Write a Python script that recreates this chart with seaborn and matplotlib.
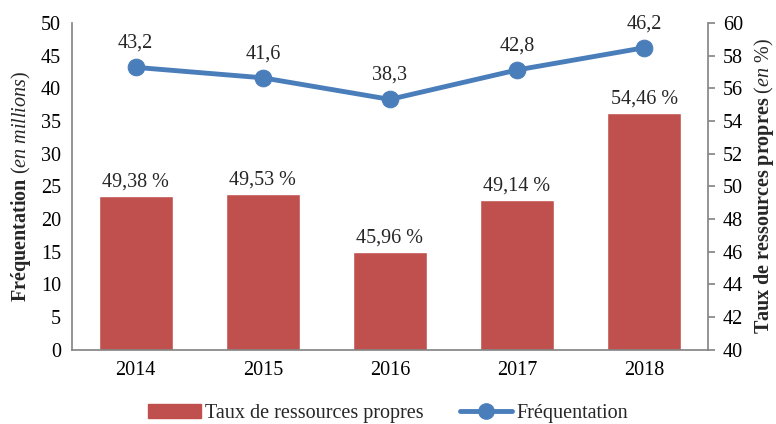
import matplotlib
matplotlib.use('Agg')
import matplotlib.pyplot as plt
import seaborn as sns
import pandas as pd
import numpy as np

# data
years = ['2014', '2015', '2016', '2017', '2018']
frequentation = [43.2, 41.6, 38.3, 42.8, 46.2]          # left axis, millions
taux_propres = [49.38, 49.53, 45.96, 49.14, 54.46]      # right axis, %

bar_color = '#C0504D'
line_color = '#4A7EBB'
grey = '#868686'

sns.set_theme(style='white')
plt.rcParams['font.family'] = ['Liberation Serif', 'DejaVu Serif']
plt.rcParams['mathtext.fontset'] = 'custom'
plt.rcParams['mathtext.rm'] = 'Liberation Serif'
plt.rcParams['mathtext.bf'] = 'Liberation Serif:bold'
plt.rcParams['mathtext.it'] = 'Liberation Serif:italic'

fs = 14.5
fig = plt.figure(figsize=(7.76, 4.24), dpi=100)
ax1 = fig.add_axes([0.093, 0.175, 0.819, 0.771])
ax2 = ax1.twinx()

df = pd.DataFrame({'year': years, 'freq': frequentation, 'taux': taux_propres})

# bars on the right axis
sns.barplot(data=df, x='year', y='taux', ax=ax2, color=bar_color,
            width=0.58, saturation=1, bottom=0)
ax2.set_ylim(40, 60)
ax2.set_yticks(np.arange(40, 61, 2))
for p, v in zip(ax2.patches, taux_propres):
    ax2.text(p.get_x() + p.get_width() / 2, v + 0.3, f"{v:.2f} %".replace('.', ','),
             ha='center', va='bottom', fontsize=fs)

# line on the left axis, drawn above bars
df['pos'] = np.arange(len(years))
sns.lineplot(data=df, x='pos', y='freq', ax=ax1, color=line_color, linewidth=3.5,
             marker='o', markersize=12, markeredgecolor=line_color)
for x, v in zip(df['pos'], frequentation):
    ax1.text(x, v + 2.2, f"{v:.1f}".replace('.', ','), ha='center', va='bottom', fontsize=fs)
ax1.set_zorder(ax2.get_zorder() + 1)
ax1.patch.set_visible(False)

ax1.set_ylim(0, 50)
ax1.set_yticks(np.arange(0, 51, 5))
ax1.set_xlim(-0.5, 4.5)
ax2.set_xlim(-0.5, 4.5)
ax1.set_xticks(range(len(years)))
ax1.set_xticklabels(years)
ax1.set_xlabel('')
ax2.set_xlabel('')

ax1.set_ylabel(r'$\mathbf{Fréquentation}$ $\mathit{(en\ millions)}$', fontsize=fs, labelpad=6)
ax2.set_ylabel(r'$\mathbf{Taux\ de\ ressources\ propres}$ $\mathit{(en\ \%)}$', fontsize=fs, labelpad=6)

for ax in (ax1, ax2):
    for side in ('top', 'left', 'right', 'bottom'):
        ax.spines[side].set_visible(False)
    ax.tick_params(labelsize=fs, colors='black')
ax1.spines['left'].set_visible(True)
ax1.spines['left'].set_color(grey)
ax1.spines['bottom'].set_visible(True)
ax1.spines['bottom'].set_color(grey)
ax2.spines['right'].set_visible(True)
ax2.spines['right'].set_color(grey)
ax1.tick_params(axis='both', length=0, pad=8)
ax2.tick_params(axis='y', length=5, color=grey, direction='out', pad=6)

# legend below
bar_handle = plt.Rectangle((0, 0), 1, 1, color=bar_color)
line_handle = plt.Line2D([], [], color=line_color, linewidth=3.5, marker='o', markersize=11)
fig.legend([bar_handle, line_handle], ['Taux de ressources propres', 'Fréquentation'],
           loc='lower center', bbox_to_anchor=(0.5, -0.04), ncol=2, frameon=False,
           fontsize=fs, handlelength=2.6, handletextpad=0.2, columnspacing=1.8)

fig.savefig('out.png', dpi=100)
